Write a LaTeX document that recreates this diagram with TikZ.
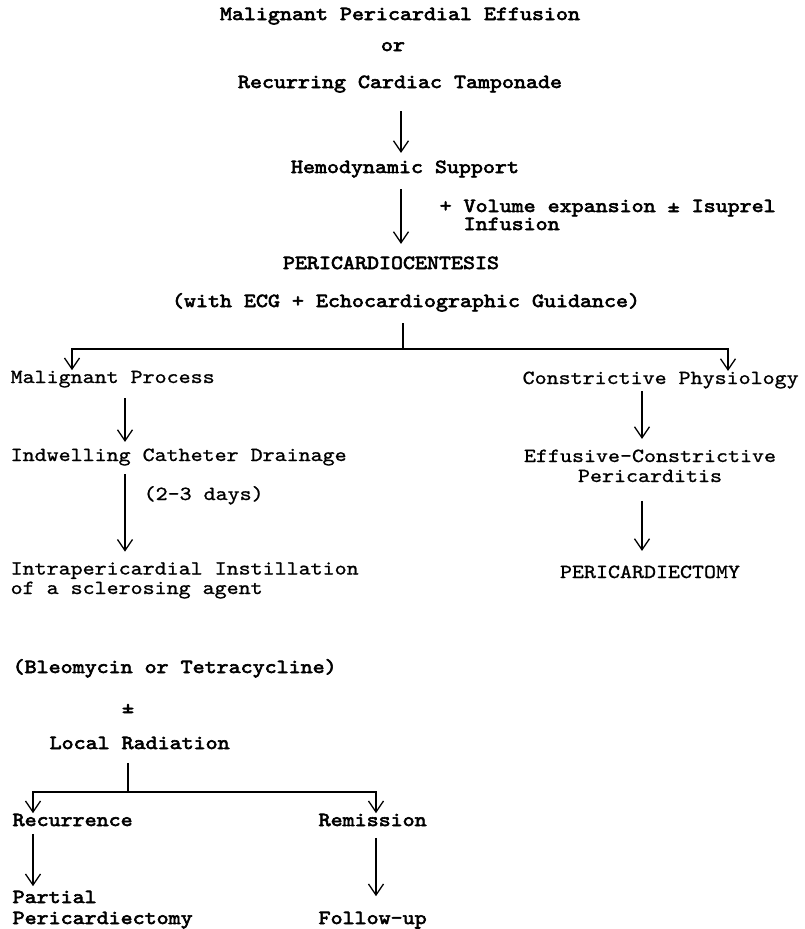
\documentclass[tikz,border=0pt]{standalone}
\usepackage{fontspec}
\newfontfamily\typer{lmmono10-regular.otf}[FakeStretch=1.143, FakeBold=1]
\newfontfamily\typerbold{lmmono10-regular.otf}[FakeStretch=1.143, FakeBold=3]
\usetikzlibrary{arrows.meta}

\begin{document}
\begin{tikzpicture}[x=1pt, y=-1pt, >={Straight Barb[length=11pt, width=15pt]}, line width=1.3pt,
    boldtxt/.style={font=\typerbold\fontsize{20}{18}\selectfont, inner sep=0pt, anchor=base},
    plaintxt/.style={font=\typer\fontsize{20}{18}\selectfont, inner sep=0pt, anchor=base}]
    \useasboundingbox (0,0) rectangle (805,929);

    % main axis
    \coordinate (spine) at (401,0);
    \node[boldtxt] (eff) at (400,20) {Malignant Pericardial Effusion};
    \node[boldtxt] (or) at (393,51) {or};
    \node[boldtxt] (tamp) at (400,88) {Recurring Cardiac Tamponade};
    \node[boldtxt] (hemo) at (405,173) {Hemodynamic Support};
    \node[boldtxt, anchor=base west, align=left] (vol) at (439,230)
        {+ Volume expansion ± Isuprel\\\ \ Infusion};
    \node[boldtxt] (pcc) at (391,269) {PERICARDIOCENTESIS};
    \node[boldtxt] (guid) at (406,307) {(with ECG + Echocardiographic Guidance)};

    \draw[->, shorten <=18pt, shorten >=7pt] (tamp.south -| spine) -- (hemo.north -| spine);
    \draw[->, shorten <=11pt, shorten >=12pt] (hemo.south -| spine) -- (pcc.north -| spine);

    % first split
    \coordinate (split) at (403,349);
    \coordinate (lfork) at (72,349);
    \coordinate (rfork) at (728,349);
    \draw[shorten <=11pt] (guid.south -| split) -- (split);

    % malignant branch
    \coordinate (lcol) at (125,0);
    \node[plaintxt, anchor=base west] (malig) at (10,383) {Malignant Process};
    \node[plaintxt, anchor=base west] (indw) at (10,461) {Indwelling Catheter Drainage};
    \node[plaintxt, anchor=base west] (days) at (143,500) {(2-3 days)};
    \node[plaintxt, anchor=base west, align=left, font=\typer\fontsize{20}{19.5}\selectfont] (instil) at (10,594)
        {Intrapericardial Instillation\\of a sclerosing agent};

    \draw[->] (split) -| (lfork |- malig.north);
    \draw[->, shorten <=10pt, shorten >=6pt] (malig.south -| lcol) -- (indw.north -| lcol);
    \draw[->, shorten <=8pt, shorten >=10pt] (indw.south -| lcol) -- (instil.north -| lcol);

    % constrictive branch
    \coordinate (rcol) at (642,0);
    \node[plaintxt, anchor=base west] (constr) at (522,384) {Constrictive Physiology};
    \node[plaintxt, align=center, font=\typer\fontsize{20}{20}\selectfont] (effcon) at (650,482)
        {Effusive-Constrictive\\Pericarditis};
    \node[plaintxt] (pcty) at (650,578) {PERICARDIECTOMY};

    \draw[->] (split) -| (rfork |- constr.north);
    \draw[->, shorten <=2pt, shorten >=10pt] (constr.south -| rcol) -- (effcon.north -| rcol);
    \draw[->, shorten <=18pt, shorten >=14pt] (effcon.south -| rcol) -- (pcty.north -| rcol);

    % sclerosing therapy
    \node[boldtxt, anchor=base west] (bleo) at (12,673) {(Bleomycin or Tetracycline)};
    \node[boldtxt] (pm) at (128,713) {±};
    \node[boldtxt, anchor=base west] (rad) at (49,749) {Local Radiation};

    \coordinate (split2) at (128,792);
    \coordinate (lfork2) at (33,792);
    \coordinate (rfork2) at (376,792);
    \draw[shorten <=13pt] (rad.south -| split2) -- (split2);

    \node[boldtxt, anchor=base west] (recur) at (12,826) {Recurrence};
    \node[boldtxt, anchor=base west] (remis) at (318,826) {Remission};
    \node[boldtxt, anchor=base west, align=left, font=\typerbold\fontsize{20}{21}\selectfont] (partial) at (12,924)
        {Partial\\Pericardiectomy};
    \node[boldtxt, anchor=base west] (follow) at (318,924) {Follow-up};

    \draw[->] (split2) -| (lfork2 |- recur.north);
    \draw[->] (split2) -| (rfork2 |- remis.north);
    \draw[->, shorten <=7pt, shorten >=4pt] (recur.south -| lfork2) -- (partial.north -| lfork2);
    \draw[->, shorten <=11pt, shorten >=15pt] (remis.south -| rfork2) -- (follow.north -| rfork2);
\end{tikzpicture}
\end{document}
